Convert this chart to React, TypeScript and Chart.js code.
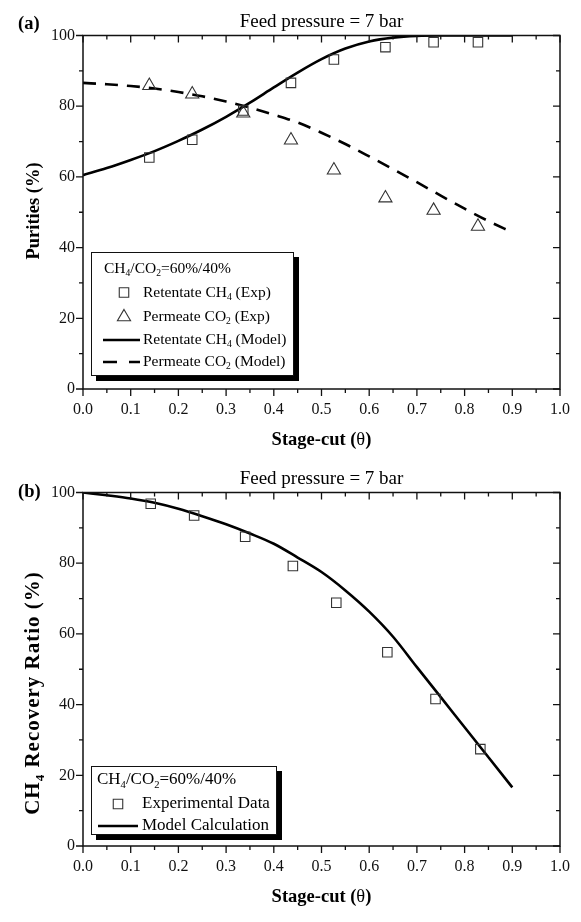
import React, { useEffect, useRef } from 'react';
import { Chart, registerables } from 'chart.js';

Chart.register(...registerables);

const FONT = '"Liberation Serif", "Times New Roman", serif';

// ---------- Panel (a): purities ----------
const modelStageCut = [0, 0.05, 0.1, 0.15, 0.2, 0.25, 0.3, 0.35, 0.4, 0.45, 0.5, 0.55, 0.6, 0.65, 0.7, 0.75, 0.8, 0.85, 0.9];
const retentateCH4Model = [60.5, 62.5, 64.8, 67.3, 70.2, 73.4, 77.0, 81.0, 85.3, 89.5, 93.3, 96.3, 98.3, 99.4, 99.9, 100, 100, 100, 100];
const permeateCO2Model = [86.6, 86.2, 85.7, 85.0, 84.0, 82.8, 81.3, 79.6, 77.6, 75.4, 72.5, 69.3, 65.8, 62.2, 58.5, 54.7, 51.0, 47.5, 44.3];
const expStageCutA = [0.139, 0.229, 0.336, 0.436, 0.526, 0.634, 0.735, 0.828];
const retentateCH4Exp = [65.5, 70.5, 78.8, 86.6, 93.2, 96.7, 98.1, 98.1];
const permeateCO2Exp = [85.8, 83.4, 78.0, 70.4, 61.9, 54.0, 50.5, 46.0];

// ---------- Panel (b): CH4 recovery ----------
const recoveryModel = [100, 99.2, 98.3, 97.1, 95.4, 93.3, 91.0, 88.4, 85.5, 81.6, 77.5, 72.3, 66.3, 59.2, 50.6, 42.1, 33.6, 25.1, 16.6];
const expStageCutB = [0.142, 0.233, 0.34, 0.44, 0.531, 0.638, 0.739, 0.833];
const recoveryExp = [96.8, 93.5, 87.5, 79.2, 68.8, 54.8, 41.6, 27.4];

// ---------- Axes ----------
const xMajorTicks = [0, 0.1, 0.2, 0.3, 0.4, 0.5, 0.6, 0.7, 0.8, 0.9, 1.0];
const yMajorTicks = [0, 20, 40, 60, 80, 100];

type Seg = { t: string; sub?: boolean; w?: string };

const pts = (xs: number[], ys: number[]) => xs.map((x, i) => ({ x, y: ys[i] }));

function drawRich(ctx: CanvasRenderingContext2D, segs: Seg[], x: number, y: number, size: number, weight: string, measureOnly = false) {
  let cx = x;
  for (const s of segs) {
    const fs = s.sub ? size * 0.62 : size;
    const w = s.w !== undefined ? s.w : weight;
    ctx.font = `${w} ${fs}px ${FONT}`;
    if (!measureOnly) ctx.fillText(s.t, cx, s.sub ? y + size * 0.3 : y);
    cx += ctx.measureText(s.t).width;
  }
  return cx - x;
}

function drawRichCentered(ctx: CanvasRenderingContext2D, segs: Seg[], cx: number, y: number, size: number, weight: string) {
  ctx.textAlign = 'left';
  const w = drawRich(ctx, segs, 0, 0, size, weight, true);
  drawRich(ctx, segs, cx - w / 2, y, size, weight);
}

type LegendRow = { y: number; x?: number; sym?: 'rect' | 'tri' | 'line' | 'dash'; segs: Seg[] };
type Panel = {
  canvasH: number;
  tag: string;
  tagY: number;
  title: string;
  yTitle: Seg[];
  yTitleY: number;
  yTitleSize: number;
  yTitleSpacing: number;
  legendBox: [number, number, number, number];
  legendFont: number;
  symX: number;
  lineX: [number, number];
  textX: number;
  rows: LegendRow[];
  datasets: any[];
};

function drawMarker(ctx: CanvasRenderingContext2D, kind: string, x: number, y: number) {
  ctx.save();
  ctx.strokeStyle = '#333';
  ctx.lineWidth = 1.1;
  ctx.beginPath();
  if (kind === 'rect') {
    const s = 6.7 * Math.SQRT1_2;
    ctx.rect(x - s, y - s, 2 * s, 2 * s);
  } else {
    const r = 7.6;
    ctx.moveTo(x, y - r);
    ctx.lineTo(x + r * Math.sin((2 * Math.PI) / 3), y - r * Math.cos((2 * Math.PI) / 3));
    ctx.lineTo(x + r * Math.sin((4 * Math.PI) / 3), y - r * Math.cos((4 * Math.PI) / 3));
    ctx.closePath();
  }
  ctx.stroke();
  ctx.restore();
}

function makePanelPlugin(p: Panel) {
  return {
    id: 'panelDecor',
    afterDatasetsDraw(chart: any) {
      const { ctx, chartArea: a } = chart;
      const xs = chart.scales.x;
      const ys = chart.scales.y;
      const midX = (a.left + a.right) / 2;
      ctx.save();
      // frame
      ctx.strokeStyle = '#111';
      ctx.lineWidth = 1.5;
      ctx.strokeRect(a.left, a.top, a.right - a.left, a.bottom - a.top);
      // ticks (major + minor), outward on bottom/left, inward on top/right
      ctx.lineWidth = 1.3;
      ctx.beginPath();
      const xv: [number, boolean][] = [];
      xMajorTicks.forEach((v, i) => {
        xv.push([v, true]);
        if (i < xMajorTicks.length - 1) xv.push([(v + xMajorTicks[i + 1]) / 2, false]);
      });
      const yv: [number, boolean][] = [];
      yMajorTicks.forEach((v, i) => {
        yv.push([v, true]);
        if (i < yMajorTicks.length - 1) yv.push([(v + yMajorTicks[i + 1]) / 2, false]);
      });
      for (const [v, major] of xv) {
        const px = xs.getPixelForValue(v);
        const L = major ? 7 : 4;
        ctx.moveTo(px, a.bottom);
        ctx.lineTo(px, a.bottom + L);
        ctx.moveTo(px, a.top);
        ctx.lineTo(px, a.top + L);
      }
      for (const [v, major] of yv) {
        const py = ys.getPixelForValue(v);
        const L = major ? 7 : 4;
        ctx.moveTo(a.left, py);
        ctx.lineTo(a.left - L, py);
        ctx.moveTo(a.right, py);
        ctx.lineTo(a.right - L, py);
      }
      ctx.stroke();

      // titles
      ctx.fillStyle = '#000';
      ctx.textBaseline = 'middle';
      ctx.textAlign = 'left';
      ctx.font = `bold 18.5px ${FONT}`;
      ctx.fillText(p.tag, 18, p.tagY);
      ctx.textAlign = 'center';
      ctx.font = `19px ${FONT}`;
      ctx.fillText(p.title, midX, 22);
      drawRichCentered(ctx, [{ t: 'Stage-cut (' }, { t: '\u03B8', w: '' }, { t: ')' }], midX, 440, 18.5, 'bold');
      ctx.save();
      ctx.translate(34, p.yTitleY);
      ctx.rotate(-Math.PI / 2);
      (ctx as any).letterSpacing = `${p.yTitleSpacing}px`;
      drawRichCentered(ctx, p.yTitle, 0, 0, p.yTitleSize, 'bold');
      (ctx as any).letterSpacing = '0px';
      ctx.restore();

      // legend box with shadow
      const [bx0, by0, bx1, by1] = p.legendBox;
      ctx.fillStyle = '#000';
      ctx.fillRect(bx0 + 5, by0 + 5, bx1 - bx0, by1 - by0);
      ctx.fillStyle = '#fff';
      ctx.fillRect(bx0, by0, bx1 - bx0, by1 - by0);
      ctx.strokeStyle = '#111';
      ctx.lineWidth = 1;
      ctx.strokeRect(bx0 + 0.5, by0 + 0.5, bx1 - bx0 - 1, by1 - by0 - 1);
      ctx.fillStyle = '#000';
      ctx.textAlign = 'left';
      for (const r of p.rows) {
        if (r.sym === 'rect' || r.sym === 'tri') {
          drawMarker(ctx, r.sym, p.symX, r.y);
        } else if (r.sym === 'line' || r.sym === 'dash') {
          ctx.save();
          ctx.strokeStyle = '#000';
          ctx.lineWidth = 2.5;
          if (r.sym === 'dash') ctx.setLineDash([14, 12]);
          ctx.beginPath();
          ctx.moveTo(p.lineX[0], r.y);
          ctx.lineTo(p.lineX[1], r.y);
          ctx.stroke();
          ctx.restore();
        }
        drawRich(ctx, r.segs, r.x !== undefined ? r.x : p.textX, r.y, p.legendFont, '');
      }
      ctx.restore();
    },
  };
}

const lineDs = (label: string, xs: number[], ys: number[], dash: number[] = []) => ({
  label,
  data: pts(xs, ys),
  showLine: true,
  borderColor: '#000',
  borderWidth: 2.6,
  borderDash: dash,
  pointRadius: 0,
  cubicInterpolationMode: 'monotone',
  fill: false,
});

const markerDs = (label: string, xs: number[], ys: number[], style: string, r: number) => ({
  label,
  data: pts(xs, ys),
  showLine: false,
  pointStyle: style,
  pointRadius: r,
  pointBorderColor: '#333',
  pointBackgroundColor: 'rgba(0,0,0,0)',
  pointBorderWidth: 1.1,
});

const ratioSegs: Seg[] = [{ t: 'CH' }, { t: '4', sub: true }, { t: '/CO' }, { t: '2', sub: true }, { t: '=60%/40%' }];

const panelA: Panel = {
  canvasH: 457,
  tag: '(a)',
  tagY: 24,
  title: 'Feed pressure = 7 bar',
  yTitle: [{ t: 'Purities (%)' }],
  yTitleY: 211,
  yTitleSize: 18.5,
  yTitleSpacing: 0,
  legendBox: [91, 252, 294, 376],
  legendFont: 15.5,
  symX: 124,
  lineX: [103, 140],
  textX: 143,
  rows: [
    { y: 269, x: 104, segs: ratioSegs },
    { y: 292.5, sym: 'rect', segs: [{ t: 'Retentate CH' }, { t: '4', sub: true }, { t: ' (Exp)' }] },
    { y: 317, sym: 'tri', segs: [{ t: 'Permeate CO' }, { t: '2', sub: true }, { t: ' (Exp)' }] },
    { y: 340, sym: 'line', segs: [{ t: 'Retentate CH' }, { t: '4', sub: true }, { t: ' (Model)' }] },
    { y: 362, sym: 'dash', segs: [{ t: 'Permeate CO' }, { t: '2', sub: true }, { t: ' (Model)' }] },
  ],
  datasets: [
    markerDs('Retentate CH4 (Exp)', expStageCutA, retentateCH4Exp, 'rect', 6.7),
    markerDs('Permeate CO2 (Exp)', expStageCutA, permeateCO2Exp, 'triangle', 7.6),
    lineDs('Retentate CH4 (Model)', modelStageCut, retentateCH4Model),
    lineDs('Permeate CO2 (Model)', modelStageCut, permeateCO2Model, [13, 9]),
  ],
};

const panelB: Panel = {
  canvasH: 465,
  tag: '(b)',
  tagY: 35,
  title: 'Feed pressure = 7 bar',
  yTitle: [{ t: 'CH' }, { t: '4', sub: true }, { t: ' Recovery Ratio (%)' }],
  yTitleY: 236,
  yTitleSize: 21,
  yTitleSpacing: 1,
  legendBox: [91, 309, 277, 378],
  legendFont: 17,
  symX: 118,
  lineX: [98, 138],
  textX: 142,
  rows: [
    { y: 323, x: 97, segs: ratioSegs },
    { y: 347, sym: 'rect', segs: [{ t: 'Experimental Data' }] },
    { y: 369, sym: 'line', segs: [{ t: 'Model Calculation' }] },
  ],
  datasets: [
    markerDs('Experimental Data', expStageCutB, recoveryExp, 'rect', 6.7),
    lineDs('Model Calculation', modelStageCut, recoveryModel),
  ],
};

function makeChart(canvas: HTMLCanvasElement, p: Panel) {
  const tickFont = { family: FONT, size: 16, lineHeight: 1.2 };
  return new Chart(canvas, {
    type: 'scatter',
    data: { datasets: p.datasets },
    options: {
      animation: false,
      responsive: false,
      maintainAspectRatio: false,
      devicePixelRatio: 1,
      layout: { padding: { left: 0, right: 18, top: 35.5, bottom: 0 } },
      plugins: { legend: { display: false }, tooltip: { enabled: false }, title: { display: false } },
      scales: {
        x: {
          type: 'linear',
          min: 0,
          max: 1,
          afterFit: (s: any) => {
            s.height = p.canvasH - 389;
          },
          grid: { display: false, drawTicks: false },
          border: { display: false },
          ticks: {
            stepSize: 0.1,
            autoSkip: false,
            maxRotation: 0,
            padding: 11,
            color: '#111',
            font: tickFont,
            callback: (v: any) => Number(v).toFixed(1),
          },
        },
        y: {
          type: 'linear',
          min: 0,
          max: 100,
          afterFit: (s: any) => {
            s.width = 83;
          },
          grid: { display: false, drawTicks: false },
          border: { display: false },
          ticks: {
            stepSize: 20,
            padding: 8,
            color: '#111',
            font: tickFont,
            callback: (v: any) => String(v),
          },
        },
      },
    } as any,
    plugins: [makePanelPlugin(p)],
  });
}

export default function App() {
  const ref1 = useRef<HTMLCanvasElement>(null);
  const ref2 = useRef<HTMLCanvasElement>(null);
  useEffect(() => {
    const c1 = makeChart(ref1.current!, panelA);
    const c2 = makeChart(ref2.current!, panelB);
    return () => {
      c1.destroy();
      c2.destroy();
    };
  }, []);
  return (
    <div style={{ position: 'absolute', left: 0, top: 0, width: 581, height: 922, background: '#fff' }}>
      <canvas ref={ref1} width={581} height={457} style={{ display: 'block', width: 581, height: 457 }} />
      <canvas ref={ref2} width={581} height={465} style={{ display: 'block', width: 581, height: 465 }} />
    </div>
  );
}
